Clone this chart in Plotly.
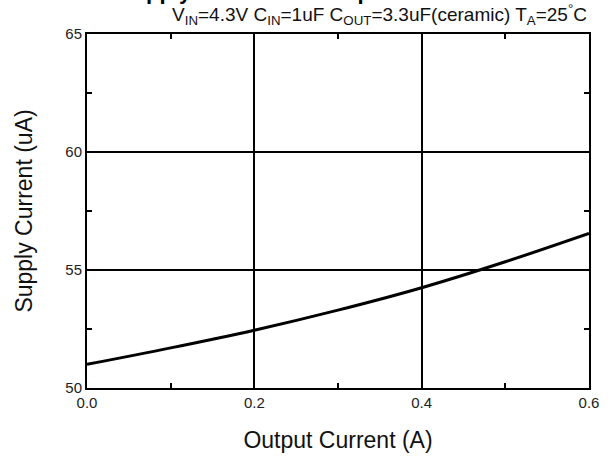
import plotly.graph_objects as go

output_current = [0.0, 0.1, 0.2, 0.3, 0.4, 0.5, 0.6]
supply_current = [51.0, 51.7, 52.45, 53.3, 54.25, 55.35, 56.55]

x_ticks = [0.0, 0.2, 0.4, 0.6]
x_labels = ["0.0", "0.2", "0.4", "0.6"]
y_ticks = [50, 55, 60, 65]
y_labels = ["50", "55", "60", "65"]

fig = go.Figure()
fig.add_trace(go.Scatter(
    x=output_current, y=supply_current, mode="lines",
    line=dict(color="black", width=3, shape="spline"),
    showlegend=False, hoverinfo="skip",
))

axis_common = dict(
    showline=True, linecolor="black", linewidth=2, mirror="allticks",
    showgrid=True, gridcolor="black", gridwidth=1.5,
    ticks="inside", ticklen=6, tickcolor="black", tickwidth=1.5,
    zeroline=False,
    tickfont=dict(family="Liberation Sans, Arial", size=15, color="#222"),
    minor=dict(ticks="inside", ticklen=5, tickcolor="black", tickwidth=1.5, showgrid=False),
)

fig.update_xaxes(
    range=[0, 0.6], tickmode="array", tickvals=x_ticks, ticktext=x_labels,
    minor_dtick=0.1,
    title=dict(text="Output Current (A)", font=dict(family="Liberation Sans, Arial", size=23, color="#111"), standoff=22),
    **axis_common,
)
fig.update_yaxes(
    range=[50, 65], tickmode="array", tickvals=y_ticks, ticktext=y_labels,
    minor_dtick=2.5,
    title=dict(text="Supply Current (uA)", font=dict(family="Liberation Sans, Arial", size=23, color="#111"), standoff=26),
    **axis_common,
)

fig.add_annotation(
    text="V<sub>IN</sub>=4.3V C<sub>IN</sub>=1uF C<sub>OUT</sub>=3.3uF(ceramic) T<sub>A</sub>=25<sup>°</sup>C",
    xref="paper", yref="paper", x=1.0, y=1.0, xanchor="right", yanchor="bottom",
    yshift=4, showarrow=False,
    font=dict(family="Liberation Sans, Arial", size=19, color="#111"),
)
fig.add_annotation(
    text="<b>Supply Current vs. Output Current</b>",
    xref="paper", yref="paper", x=0.42, y=1.0, xanchor="center", yanchor="bottom",
    yshift=28, showarrow=False,
    font=dict(family="Liberation Sans, Arial", size=22, color="black"),
)

fig.update_layout(
    width=611, height=463,
    margin=dict(l=87, r=16, t=34, b=75),
    paper_bgcolor="white", plot_bgcolor="white",
)

fig.write_html("out.html")
